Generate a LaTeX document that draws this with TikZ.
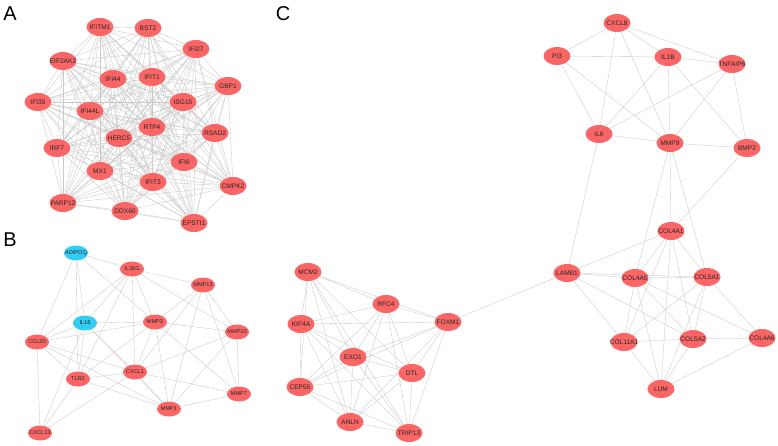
\documentclass[tikz,border=0pt]{standalone}
\usepackage{fontspec}
\setmainfont{Liberation Sans}
\usetikzlibrary{shapes.geometric,backgrounds}
\definecolor{hub}{RGB}{250,102,102}
\definecolor{sky}{RGB}{51,204,245}
\begin{document}
\begin{tikzpicture}
        [x=1pt,y=-1pt,
         g/.style={ellipse,fill=hub,inner sep=0pt,minimum width=27pt,minimum height=18pt,
                   text=black!85,font=\fontsize{6.6}{7}\selectfont,
                   execute at begin node={\hbox to 0pt\bgroup\hss},
                   execute at end node={\hss\egroup}},
         gb/.style={g,minimum width=24pt,minimum height=15pt,font=\fontsize{5.6}{6}\selectfont},
         gc/.style={gb,fill=sky},
         lnk/.style={draw=gray!42,line width=0.35pt},
         panel/.style={font=\fontsize{20}{22}\selectfont}]
        \useasboundingbox (0,0) rectangle (778,445);
        \node[panel](la) at (10,14){A};
        \node[panel](lb) at (10,240){B};
        \node[panel](lc) at (283,14){C};
        % panel A
        \node[g](IFITM1) at (100,27){IFITM1};
        \node[g](BST2) at (148,28){BST2};
        \node[g](IFI27) at (196,49){IFI27};
        \node[g](EIF2AK2) at (63,61){EIF2AK2};
        \node[g](IFI44) at (113,79){IFI44};
        \node[g](IFIT1) at (152,77){IFIT1};
        \node[g](GBP1) at (228,86){GBP1};
        \node[g](IFI35) at (38,102){IFI35};
        \node[g](ISG15) at (183,102){ISG15};
        \node[g](IFI44L) at (90,111){IFI44L};
        \node[g](RTP4) at (152,127){RTP4};
        \node[g](RSAD2) at (215,133){RSAD2};
        \node[g](HERC5) at (119,138){HERC5};
        \node[g](IRF7) at (57,148){IRF7};
        \node[g](IFI6) at (184,162){IFI6};
        \node[g](MX1) at (100,171){MX1};
        \node[g](IFIT3) at (153,182){IFIT3};
        \node[g](CMPK2) at (233,186){CMPK2};
        \node[g](PARP12) at (63,203){PARP12};
        \node[g](DDX60) at (125,211){DDX60};
        \node[g](EPSTI1) at (194,223){EPSTI1};
        % panel B
        \node[gc](ADIPOQ) at (76,253){ADIPOQ};
        \node[gb](IL36G) at (132,269){IL36G};
        \node[gb](MMP13) at (203,285){MMP13};
        \node[gc](IL18) at (85,323){IL18};
        \node[gb](MMP3) at (155,322){MMP3};
        \node[gb](MMP10) at (237,332){MMP10};
        \node[gb](CCL20) at (37,342){CCL20};
        \node[gb](CXCL1) at (135,372){CXCL1};
        \node[gb](TLR2) at (78,379){TLR2};
        \node[gb](MMP7) at (239,394){MMP7};
        \node[gb](MMP1) at (169,409){MMP1};
        \node[gb](CXCL13) at (40,433){CXCL13};
        % panel C
        \node[g](MCM2) at (308,272){MCM2};
        \node[g](RFC4) at (386,304){RFC4};
        \node[g](KIF4A) at (301,324){KIF4A};
        \node[g](FOXM1) at (448,322){FOXM1};
        \node[g](EXO1) at (353,357){EXO1};
        \node[g](DTL) at (412,373){DTL};
        \node[g](CEP55) at (300,387){CEP55};
        \node[g](ANLN) at (350,422){ANLN};
        \node[g](TRIP13) at (409,433){TRIP13};
        \node[g](CXCL8) at (617,23){CXCL8};
        \node[g](PI3) at (557,56){PI3};
        \node[g](IL1B) at (668,57){IL1B};
        \node[g](TNFAIP6) at (732,64){TNFAIP6};
        \node[g](IL6) at (599,134){IL6};
        \node[g](MMP9) at (670,143){MMP9};
        \node[g](BMP2) at (747,148){BMP2};
        \node[g](COL4A1) at (671,231){COL4A1};
        \node[g](LAMB1) at (567,273){LAMB1};
        \node[g](COL4A5) at (635,278){COL4A5};
        \node[g](COL5A1) at (707,277){COL5A1};
        \node[g](COL11A1) at (624,342){COL11A1};
        \node[g](COL5A2) at (693,339){COL5A2};
        \node[g](COL4A6) at (762,338){COL4A6};
        \node[g](LUM) at (661,389){LUM};
        \begin{pgfonlayer}{background}
        % dense clusters: every pair linked
        \def\clusterA{IFITM1,BST2,IFI27,EIF2AK2,IFI44,IFIT1,GBP1,IFI35,ISG15,IFI44L,RTP4,
                RSAD2,HERC5,IRF7,IFI6,MX1,IFIT3,CMPK2,PARP12,DDX60,EPSTI1}
        \def\clusterC{MCM2,RFC4,KIF4A,FOXM1,EXO1,DTL,CEP55,ANLN,TRIP13}
        \foreach \u [count=\i] in \clusterA
            \foreach \v [count=\j] in \clusterA
                {\ifnum\j>\i \draw[lnk](\u)--(\v); \fi}
        \foreach \u [count=\i] in \clusterC
            \foreach \v [count=\j] in \clusterC
                {\ifnum\j>\i \draw[lnk](\u)--(\v); \fi}
        \path[lnk](ADIPOQ) edge (IL36G)
                    edge (CCL20)
                    edge (IL18)
                    edge (TLR2)
                    edge (MMP3)
                (IL36G) edge (MMP13)
                    edge (MMP10)
                    edge (MMP3)
                    edge (CXCL1)
                    edge (IL18)
                    edge (TLR2)
                    edge (CCL20)
                (MMP13) edge (MMP3)
                    edge (CXCL1)
                    edge (MMP1)
                    edge (MMP10)
                    edge (MMP7)
                (IL18) edge (MMP3)
                    edge (CCL20)
                    edge (TLR2)
                    edge (CXCL1)
                    edge (MMP1)
                    edge (CXCL13)
                (MMP3) edge (MMP10)
                    edge (CXCL1)
                    edge (MMP1)
                    edge (MMP7)
                    edge (TLR2)
                    edge (CCL20)
                (MMP10) edge (CXCL1)
                    edge (MMP7)
                    edge (MMP1)
                (CCL20) edge (CXCL1)
                    edge (TLR2)
                    edge (CXCL13)
                    edge (MMP1)
                (CXCL1) edge (TLR2)
                    edge (MMP1)
                    edge (MMP7)
                    edge (CXCL13)
                (TLR2) edge (CXCL13)
                    edge (MMP1)
                (MMP1) edge (MMP7);
        \path[lnk](CXCL8) edge (PI3)
                    edge (IL1B)
                    edge (TNFAIP6)
                    edge (IL6)
                    edge (MMP9)
                (PI3) edge (IL1B)
                    edge (IL6)
                    edge (MMP9)
                (IL1B) edge (TNFAIP6)
                    edge (IL6)
                    edge (MMP9)
                    edge (BMP2)
                (TNFAIP6) edge (IL6)
                    edge (MMP9)
                    edge (BMP2)
                (IL6) edge (MMP9)
                    edge (LAMB1)
                (MMP9) edge (BMP2)
                    edge (COL4A1)
                    edge (COL4A5)
                    edge (COL5A1)
                (BMP2) edge (COL4A1)
                (LAMB1) edge (FOXM1)
                    edge (COL4A1)
                    edge (COL4A5)
                    edge (COL5A1)
                    edge (COL11A1)
                    edge (COL5A2)
                (COL4A1) edge (COL4A5)
                    edge (COL5A1)
                    edge (COL11A1)
                    edge (COL5A2)
                    edge (LUM)
                (COL4A5) edge (COL5A1)
                    edge (COL11A1)
                    edge (COL5A2)
                    edge (LUM)
                    edge (COL4A6)
                (COL5A1) edge (COL11A1)
                    edge (COL5A2)
                    edge (LUM)
                    edge (COL4A6)
                (COL11A1) edge (COL5A2)
                    edge (LUM)
                (COL5A2) edge (COL4A6)
                    edge (LUM)
                (COL4A6) edge (LUM);
        \end{pgfonlayer}
\end{tikzpicture}
\end{document}
